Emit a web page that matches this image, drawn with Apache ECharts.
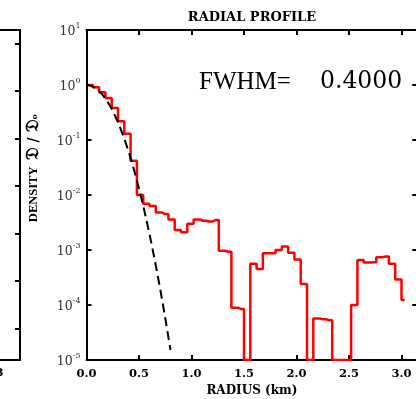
<!DOCTYPE html>
<html><head><meta charset="utf-8">
<script src="https://cdn.jsdelivr.net/npm/echarts@6/dist/echarts.min.js"></script>
<style>html,body{margin:0;padding:0;background:#fff}#c{width:416px;height:399px}</style>
</head><body><div id="c"></div>
<script>
// Radial profile bins (km) – bin centers
const radius = [0.03,0.09,0.15,0.21,0.27,0.33,0.39,0.45,0.51,0.57,0.63,0.69,0.75,0.81,0.87,0.93,0.99,
  1.05,1.11,1.17,1.23,1.29,1.35,1.41,1.47,1.53,1.59,1.65,1.71,1.77,1.83,1.89,1.95,
  2.01,2.07,2.13,2.19,2.25,2.31,2.37,2.43,2.49,2.55,2.61,2.67,2.73,2.79,2.85,2.91,2.97,3.03];
// Density D/D0 (values at the plot floor 1e-5 are empty bins)
const density = [1.0,0.91,0.74,0.58,0.38,0.22,0.13,0.042,0.010,0.0069,0.0063,0.0048,0.0045,0.0036,0.0023,0.0021,0.0030,
  0.0036,0.0034,0.0033,0.0035,0.00097,0.00093,0.000089,0.000085,0.00001,0.00056,0.00045,0.00087,0.00087,0.00100,0.00116,0.00089,
  0.00067,0.00024,0.00001,0.000057,0.000055,0.000053,0.00001,0.00001,0.00001,0.00010,0.00066,0.00059,0.00060,0.00074,0.00076,0.00056,0.00029,0.000123];
// Gaussian model (FWHM 0.4)
const modelRadius = [0,0.05,0.1,0.15,0.2,0.25,0.3,0.35,0.4,0.45,0.5,0.55,0.6,0.65,0.7,0.75,0.8];
const modelDensity = [1,0.958,0.841,0.677,0.5,0.339,0.21,0.12,0.0625,0.030,0.0131,0.0053,0.00195,0.00066,0.000205,0.000058,0.0000152];
const xTicks = [0.0,0.5,1.0,1.5,2.0,2.5,3.0];
// neighbouring (cut-off) panel: tick values on its own 0..330 scale, and a stray point
const leftPanelTicks = [31.5, 79, 126.5, 174, 221.5, 269, 316.5];
const leftPanelPoint = [[0.6, 169]];
const titleText = 'RADIAL PROFILE';
const fwhmLabel = 'FWHM=';
const fwhmValue = '0.4000';

const chart = echarts.init(document.getElementById('c'), null, {renderer:'canvas'});
const black = '#000';
const axisLine = {show:true, onZero:false, lineStyle:{color:black, width:2}};
const tick = {show:true, inside:true, length:5, lineStyle:{color:black, width:2}};
const xLabel = {
  show:true, margin:8, color:black, fontFamily:'DejaVu Serif', fontWeight:'bold', fontSize:11.5,
  formatter: v => xTicks.some(t => Math.abs(t - v) < 1e-6) ? v.toFixed(1) : ''
};
const yLabel = {
  show:true, margin:6, color:'#333',
  formatter: v => { const e = Math.round(Math.log10(v)); return '{b|10}{s|' + e + '}'; },
  rich: {
    b:{fontFamily:'DejaVu Serif', fontSize:12.5, color:'#333', lineHeight:16, verticalAlign:'bottom'},
    s:{fontFamily:'DejaVu Serif', fontSize:8, color:'#333', lineHeight:16, verticalAlign:'top'}
  }
};
const option = {
  animation:false,
  backgroundColor:'#fff',
  grid:[
    {left:86.5, top:30, width:330.75, height:330, containLabel:false, outerBoundsMode:'none'},
    {left:-310, top:30, width:330, height:330, containLabel:false, outerBoundsMode:'none'}
  ],
  xAxis:[
    {gridIndex:0, type:'value', min:0, max:3.15, interval:0.5, position:'bottom',
     axisLine, axisTick:tick, axisLabel:xLabel, splitLine:{show:false},
     name:'RADIUS (km)', nameLocation:'middle', nameGap:24,
     nameTextStyle:{fontFamily:'DejaVu Serif', fontWeight:'bold', fontSize:12, color:black}},
    {gridIndex:0, type:'value', min:0, max:3.15, interval:0.5, position:'top',
     axisLine, axisTick:tick, axisLabel:{show:false}, splitLine:{show:false}},
    {gridIndex:1, type:'value', min:0, max:1, position:'bottom', axisLine, axisTick:{show:false}, axisLabel:{show:false}, splitLine:{show:false}},
    {gridIndex:1, type:'value', min:0, max:1, position:'top', axisLine, axisTick:{show:false}, axisLabel:{show:false}, splitLine:{show:false}}
  ],
  yAxis:[
    {gridIndex:0, type:'log', logBase:10, min:0.00001, max:10, position:'left',
     axisLine, axisTick:tick, axisLabel:yLabel, splitLine:{show:false}, minorTick:{show:false}},
    {gridIndex:0, type:'log', logBase:10, min:0.00001, max:10, position:'right',
     axisLine, axisTick:tick, axisLabel:{show:false}, splitLine:{show:false}},
    {gridIndex:1, type:'value', min:0, max:330, position:'right',
     axisLine, axisTick:Object.assign({}, tick, {customValues:leftPanelTicks}), axisLabel:{show:false}, splitLine:{show:false}},
    {gridIndex:1, type:'value', min:0, max:330, position:'left',
     axisLine:{show:false}, axisTick:{show:false}, axisLabel:{show:false}, splitLine:{show:false}}
  ],
  series:[
    {type:'line', xAxisIndex:0, yAxisIndex:0, step:'middle', symbol:'none', clip:true, z:3,
     data: radius.map((r,i)=>[r, density[i]]),
     lineStyle:{color:'#ff0000', width:2.5}},
    {type:'line', xAxisIndex:0, yAxisIndex:0, symbol:'none', clip:true, z:4, smooth:false,
     data: modelRadius.map((r,i)=>[r, modelDensity[i]]),
     lineStyle:{color:black, width:2, type:[9,5]}},
    {type:'scatter', xAxisIndex:2, yAxisIndex:2, symbol:'circle', symbolSize:1.6, silent:true,
     data: leftPanelPoint, itemStyle:{color:'#ff7a4a'}}
  ],
  graphic:[
    {type:'text', x:252, y:18, style:{text:titleText, align:'center', verticalAlign:'middle',
      font:'bold 13px "DejaVu Serif"', fill:black}},
    {type:'text', x:199, y:82, style:{text:fwhmLabel, align:'left', verticalAlign:'middle',
      font:'25px "Liberation Serif"', fill:black}},
    {type:'text', x:320, y:82, style:{text:fwhmValue, align:'left', verticalAlign:'middle',
      font:'23.5px "DejaVu Serif"', fill:black}},
    {type:'text', x:34, y:168, rotation:Math.PI/2, style:{
      text:'{a|DENSITY  }{d|𝔇}{s| / }{d|𝔇}{o|ₒ}', align:'center', verticalAlign:'middle',
      rich:{
        a:{fontFamily:'Liberation Serif', fontWeight:'bold', fontSize:12.5, fill:black},
        d:{fontFamily:'DejaVu Serif', fontWeight:'bold', fontSize:17, fill:black},
        s:{fontFamily:'DejaVu Serif', fontWeight:'bold', fontSize:14, fill:black},
        o:{fontFamily:'DejaVu Serif', fontWeight:'bold', fontSize:12, fill:black}
      }}},
    {type:'text', x:3.5, y:373, style:{text:'3', align:'right', verticalAlign:'middle',
      font:'bold 11.5px "DejaVu Serif"', fill:black}}
  ]
};
chart.setOption(option);
</script></body></html>
